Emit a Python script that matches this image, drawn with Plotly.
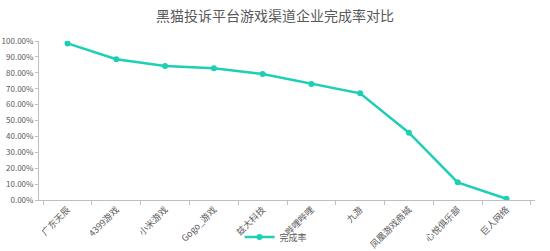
import plotly.graph_objects as go

categories = ["广东天辰", "4399游戏", "小米游戏", "Gogo_游戏", "兹大科技", "哔哩哔哩", "九游", "凤凰游戏商城", "心悦俱乐部", "巨人网络"]
completion_rate = [0.985, 0.885, 0.843, 0.828, 0.792, 0.730, 0.671, 0.423, 0.111, 0.008]
y_ticks = [i / 10 for i in range(11)]
y_tick_labels = [f"{v*100:.2f}%" for v in y_ticks]

teal = "#1DCFB5"
gray_text = "#595959"
axis_gray = "#BFBFBF"
font_family = "Noto Sans CJK SC, Noto Sans, sans-serif"

fig = go.Figure()
fig.add_trace(go.Scatter(
    x=categories, y=completion_rate, mode="lines+markers", name="完成率",
    line=dict(color=teal, width=2.5), marker=dict(color=teal, size=6),
))

fig.update_layout(
    width=550, height=251,
    margin=dict(l=39, r=15, t=41, b=51, autoexpand=False),
    paper_bgcolor="white", plot_bgcolor="white",
    font=dict(family=font_family, size=9, color=gray_text),
    title=dict(text="黑猫投诉平台游戏渠道企业完成率对比", x=0.5, xanchor="center",
               y=1 - 16 / 251, yanchor="middle",
               font=dict(size=14, color=gray_text, family=font_family)),
    showlegend=True,
    legend=dict(orientation="h", x=0.478, xanchor="center", yref="container",
                y=1 - 237 / 251, yanchor="middle",
                font=dict(size=9, color=gray_text), itemwidth=30, bgcolor="rgba(0,0,0,0)"),
    xaxis=dict(type="category", showline=True, linecolor=axis_gray, linewidth=1,
               ticks="outside", ticklen=4, tickcolor=axis_gray, tickson="boundaries",
               tickangle=-45, showgrid=False, zeroline=False, automargin=False,
               tickfont=dict(size=9, color=gray_text)),
    yaxis=dict(range=[0, 1], tickvals=y_ticks, ticktext=y_tick_labels,
               showline=True, linecolor=axis_gray, linewidth=1,
               ticks="outside", ticklen=3, tickcolor=axis_gray,
               showgrid=False, zeroline=False, automargin=False,
               tickfont=dict(size=8, color=gray_text)),
)

fig.write_html("out.html")
